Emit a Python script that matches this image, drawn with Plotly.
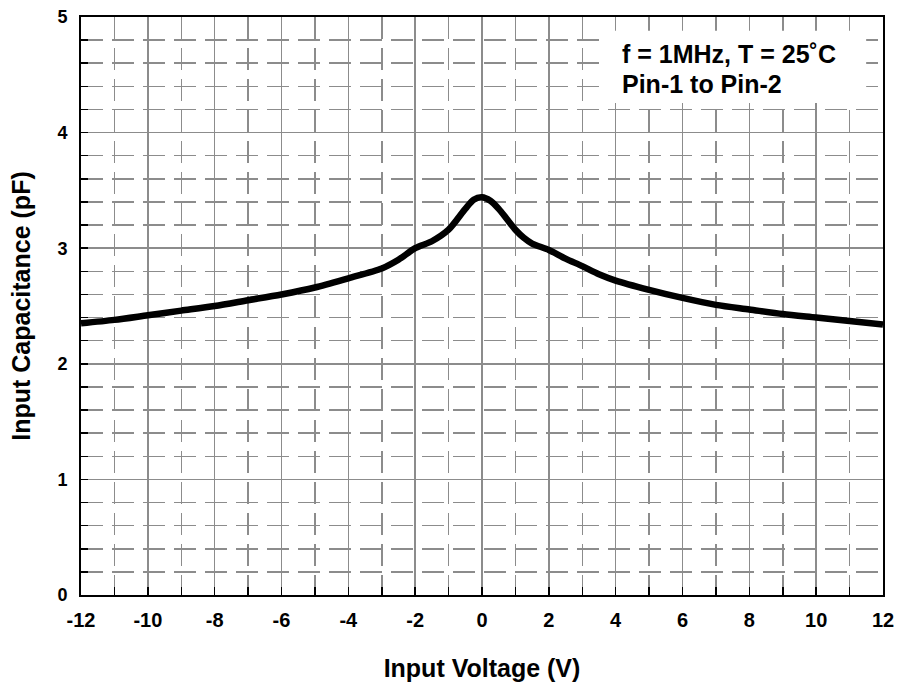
import plotly.graph_objects as go

voltage = [-12, -11, -10, -9, -8, -7, -6, -5, -4, -3, -2.5, -2, -1.5, -1, -0.5, -0.25, 0,
           0.25, 0.5, 0.75, 1, 1.25, 1.5, 2, 2.5, 3, 3.5, 4, 5, 6, 7, 8, 9, 10, 11, 12]
capacitance = [2.35, 2.38, 2.42, 2.46, 2.50, 2.55, 2.60, 2.66, 2.74, 2.825, 2.90, 3.0, 3.06, 3.16, 3.34, 3.42, 3.44,
               3.41, 3.34, 3.25, 3.16, 3.09, 3.04, 2.985, 2.91, 2.845, 2.775, 2.72, 2.64, 2.57, 2.51, 2.47, 2.43, 2.40, 2.37, 2.34]
x_ticks = [-12, -10, -8, -6, -4, -2, 0, 2, 4, 6, 8, 10, 12]
y_ticks = [0, 1, 2, 3, 4, 5]
note_lines = ["f = 1MHz, T = 25˚C", "Pin-1 to Pin-2"]

FONT = "Liberation Sans, Arial, sans-serif"
GRID = "#8c8c8c"

fig = go.Figure()
fig.add_trace(go.Scatter(
    x=voltage, y=capacitance, mode="lines",
    line=dict(color="black", width=6.5, shape="spline", smoothing=0.8),
    hoverinfo="skip", showlegend=False))

fig.update_xaxes(
    range=[-12, 12], tickvals=x_ticks, ticktext=[str(v) for v in x_ticks],
    showgrid=True, gridcolor=GRID, gridwidth=1.5,
    ticks="inside", ticklen=8, tickwidth=1.5, tickcolor="black",
    minor=dict(dtick=1, tick0=-12, showgrid=True, gridcolor=GRID, gridwidth=1.5,
               griddash="22px,9px", ticks="inside", ticklen=8, tickcolor="black", tickwidth=1.5),
    showline=True, linecolor="black", linewidth=2, mirror=True,
    zeroline=False, automargin=False, ticklabeloverflow="allow",
    tickfont=dict(family=FONT, size=20, color="black", weight="bold"),
    ticklabelstandoff=6,
    title=dict(text="<b>Input Voltage (V)</b>", font=dict(family=FONT, size=25, color="black"),
               standoff=29),
)
fig.update_yaxes(
    range=[0, 5], tickvals=y_ticks, ticktext=[str(v) for v in y_ticks],
    showgrid=True, gridcolor=GRID, gridwidth=1.5,
    ticks="inside", ticklen=7, tickwidth=1.5, tickcolor="black",
    minor=dict(dtick=0.2, tick0=0, showgrid=True, gridcolor=GRID, gridwidth=1.5,
               griddash="22px,9px", ticks="inside", ticklen=7, tickcolor="black", tickwidth=1.5),
    showline=True, linecolor="black", linewidth=2, mirror=True,
    zeroline=False, automargin=False, ticklabeloverflow="allow",
    tickfont=dict(family=FONT, size=18, color="black", weight="bold"),
    ticklabelstandoff=8,
    title=dict(text="<b>Input Capacitance (pF)</b>", font=dict(family=FONT, size=25, color="black"),
               standoff=20),
)

fig.add_shape(type="rect", xref="paper", yref="paper",
              x0=0.656, x1=0.979, y0=0.851, y1=0.976,
              fillcolor="white", line=dict(width=0), layer="above")
fig.add_annotation(xref="paper", yref="paper", x=0.672, y=0.936, xanchor="left", yanchor="middle",
                   text="<b>" + note_lines[0] + "</b>", showarrow=False,
                   font=dict(family=FONT, size=25, color="black"))
fig.add_annotation(xref="paper", yref="paper", x=0.672, y=0.884, xanchor="left", yanchor="middle",
                   text="<b>" + note_lines[1] + "</b>", showarrow=False,
                   font=dict(family=FONT, size=25, color="black"))

fig.update_layout(
    width=898, height=686,
    margin=dict(l=81, r=15, t=17, b=91),
    plot_bgcolor="white", paper_bgcolor="white",
    font=dict(family=FONT, color="black"),
)

fig.write_html(
    "out.html",
    config={"displayModeBar": False, "staticPlot": True},
    post_script="document.body.style.margin='0';document.body.style.overflow='hidden';"
                "document.documentElement.style.overflow='hidden';",
)
